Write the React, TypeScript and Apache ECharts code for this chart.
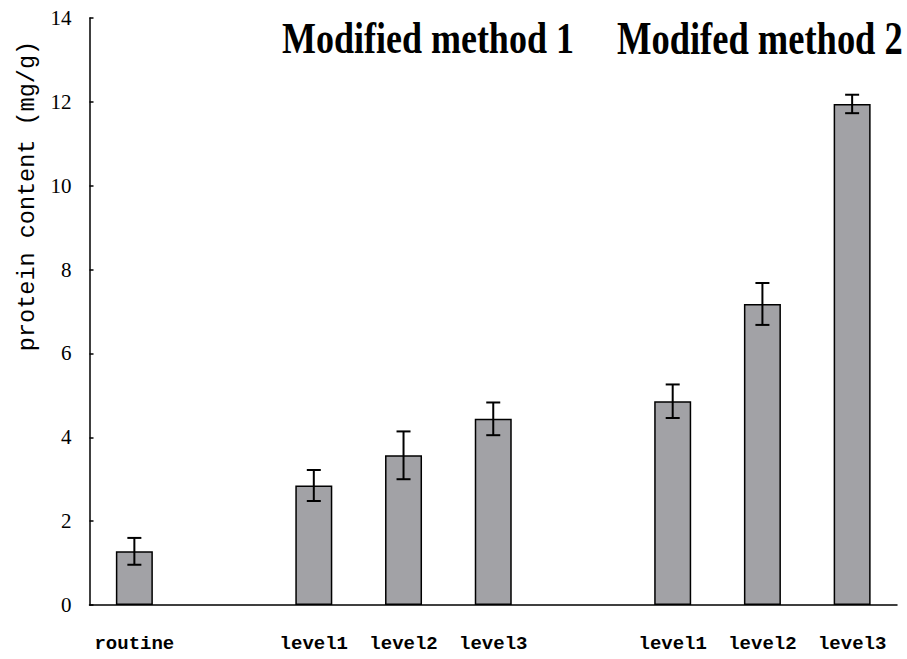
import React, { useEffect, useRef } from "react";
import * as echarts from "echarts";

const categories = ["routine", "", "level1", "level2", "level3", "", "level1", "level2", "level3"];
const values: (number | null)[] = [1.28, null, 2.85, 3.57, 4.44, null, 4.86, 7.18, 11.95];
const errors: (number | null)[] = [0.32, null, 0.37, 0.57, 0.39, null, 0.4, 0.5, 0.22];
const yTicks = { min: 0, max: 14, interval: 2 };
const yAxisName = "protein content (mg/g)";
const groupTitles = ["Modified method 1", "Modifed method 2"];

export default function App() {
  const ref = useRef<HTMLDivElement>(null);
  useEffect(() => {
    if (!ref.current) return;
    const chart = echarts.init(ref.current, null, { renderer: "svg" });
    const errData = values
      .map((v, i) => (v == null || errors[i] == null ? null : [i, v - (errors[i] as number), v + (errors[i] as number)]))
      .filter((d) => d !== null);
    chart.setOption({
      animation: false,
      backgroundColor: "#ffffff",
      grid: { left: 89.5, right: 10, top: 18, bottom: 54, containLabel: false },
      xAxis: {
        type: "category",
        data: categories,
        boundaryGap: true,
        axisLine: { lineStyle: { color: "#000", width: 1.5 } },
        axisTick: { inside: true, length: 5, interval: 0, lineStyle: { color: "#000", width: 1.5 } },
        axisLabel: {
          interval: 0,
          color: "#000",
          fontFamily: "Liberation Mono",
          fontWeight: "bold",
          fontSize: 19,
          margin: 29,
        },
        splitLine: { show: false },
      },
      yAxis: {
        type: "value",
        min: yTicks.min,
        max: yTicks.max,
        interval: yTicks.interval,
        axisLine: { show: true, lineStyle: { color: "#000", width: 1.5 } },
        axisTick: { show: true, inside: true, length: 4, lineStyle: { color: "#000", width: 1.5 } },
        axisLabel: {
          color: "#000",
          fontFamily: "Liberation Serif",
          fontSize: 21,
          margin: 18,
        },
        splitLine: { show: false },
      },
      graphic: [
        {
          type: "text",
          x: 27,
          y: 196,
          rotation: Math.PI / 2,
          style: {
            text: yAxisName,
            fontFamily: "Liberation Mono",
            fontSize: 23.5,
            fill: "#000",
            align: "center",
            verticalAlign: "middle",
          },
        },
        {
          type: "text",
          x: 282,
          y: 38.5,
          scaleY: 1.25,
          style: {
            text: groupTitles[0],
            fontFamily: "Liberation Serif",
            fontWeight: "bold",
            fontSize: 36,
            fill: "#000",
            align: "left",
            verticalAlign: "middle",
          },
        },
        {
          type: "text",
          x: 617,
          y: 38.5,
          scaleY: 1.25,
          style: {
            text: groupTitles[1],
            fontFamily: "Liberation Serif",
            fontWeight: "bold",
            fontSize: 36.5,
            fill: "#000",
            align: "left",
            verticalAlign: "middle",
          },
        },
      ],
      series: [
        {
          type: "bar",
          data: values.map((v) => (v == null ? "-" : v)),
          barWidth: 37,
          itemStyle: { color: "#a2a2a6", borderColor: "#000", borderWidth: 1.5 },
          z: 2,
        },
        {
          type: "custom",
          data: errData,
          z: 5,
          renderItem: (params: any, api: any) => {
            const x = api.value(0);
            const lo = api.coord([x, api.value(1)]);
            const hi = api.coord([x, api.value(2)]);
            const hw = 7;
            const style = { stroke: "#000", lineWidth: 2 };
            return {
              type: "group",
              children: [
                { type: "line", shape: { x1: hi[0], y1: hi[1], x2: lo[0], y2: lo[1] }, style },
                { type: "line", shape: { x1: hi[0] - hw, y1: hi[1], x2: hi[0] + hw, y2: hi[1] }, style },
                { type: "line", shape: { x1: lo[0] - hw, y1: lo[1], x2: lo[0] + hw, y2: lo[1] }, style },
              ],
            };
          },
        },
      ],
    });
    return () => chart.dispose();
  }, []);
  return (
    <div
      ref={ref}
      style={{ position: "fixed", left: 0, top: 0, width: 907, height: 659, background: "#fff" }}
    />
  );
}
